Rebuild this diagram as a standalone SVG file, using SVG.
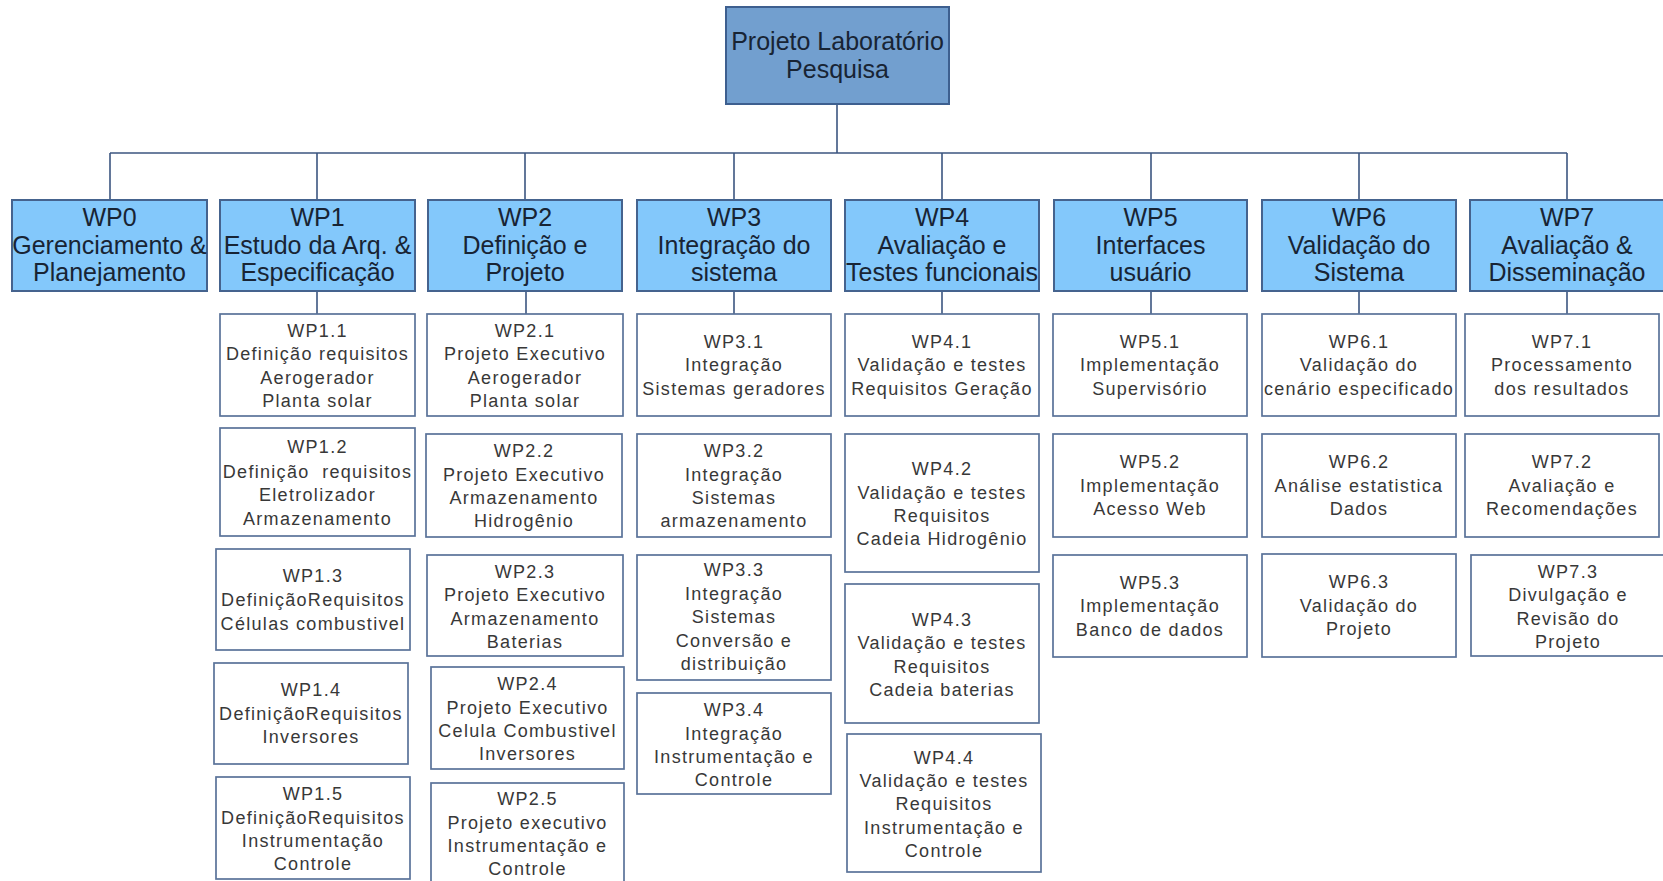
<svg xmlns="http://www.w3.org/2000/svg" width="1663" height="881" viewBox="0 0 1663 881">
  <style>
    .root rect { fill: #729fcf; stroke: #3d5f8f; stroke-width: 2; }
    .wp rect { fill: #83c8fb; stroke: #45638e; stroke-width: 2; }
    .sub rect { fill: #ffffff; stroke: #5a7299; stroke-width: 1.7; }
    text { font-family: "Liberation Sans", Arial, sans-serif; text-anchor: middle; }
    .root text, .wp text { font-size: 25px; fill: #182434; }
    .sub text { font-size: 18px; fill: #383838; letter-spacing: 1.3px; white-space: pre; }
    #connectors path { fill: none; stroke: #3c5680; stroke-width: 1.6; }
  </style>
  <rect width="1663" height="881" fill="#ffffff"/>

  <!-- tree links -->
  <g id="connectors">
    <path d="M837 104V153M110 153H1567"/>
    <path d="M110 153V200M317 153V200M525 153V200M734 153V200M942 153V200M1151 153V200M1359 153V200M1567 153V200"/>
    <path d="M317 291V314M526 291V314M734 291V314M942 291V314M1151 291V314M1359 291V314M1567 291V314"/>
  </g>

  <!-- top level -->
  <g id="root" class="root">
    <rect x="726" y="7" width="223" height="97"/>
    <text x="837.5" y="50">Projeto Laboratório</text>
    <text x="837.5" y="78">Pesquisa</text>
  </g>

  <!-- work packages -->
  <g id="wp0" class="wp">
    <rect x="12" y="200" width="195" height="91"/>
    <text x="109.5" y="226">WP0</text>
    <text x="109.5" y="253.5">Gerenciamento &amp;</text>
    <text x="109.5" y="281">Planejamento</text>
  </g>
  <g id="wp1" class="wp">
    <rect x="220" y="200" width="195" height="91"/>
    <text x="317.5" y="226">WP1</text>
    <text x="317.5" y="253.5">Estudo da Arq. &amp;</text>
    <text x="317.5" y="281">Especificação</text>
  </g>
  <g id="wp2" class="wp">
    <rect x="428" y="200" width="194" height="91"/>
    <text x="525" y="226">WP2</text>
    <text x="525" y="253.5">Definição e</text>
    <text x="525" y="281">Projeto</text>
  </g>
  <g id="wp3" class="wp">
    <rect x="637" y="200" width="194" height="91"/>
    <text x="734" y="226">WP3</text>
    <text x="734" y="253.5">Integração do</text>
    <text x="734" y="281">sistema</text>
  </g>
  <g id="wp4" class="wp">
    <rect x="845" y="200" width="194" height="91"/>
    <text x="942" y="226">WP4</text>
    <text x="942" y="253.5">Avaliação e</text>
    <text x="942" y="281">Testes funcionais</text>
  </g>
  <g id="wp5" class="wp">
    <rect x="1054" y="200" width="193" height="91"/>
    <text x="1150.5" y="226">WP5</text>
    <text x="1150.5" y="253.5">Interfaces</text>
    <text x="1150.5" y="281">usuário</text>
  </g>
  <g id="wp6" class="wp">
    <rect x="1262" y="200" width="194" height="91"/>
    <text x="1359" y="226">WP6</text>
    <text x="1359" y="253.5">Validação do</text>
    <text x="1359" y="281">Sistema</text>
  </g>
  <g id="wp7" class="wp">
    <rect x="1470" y="200" width="194" height="91"/>
    <text x="1567" y="226">WP7</text>
    <text x="1567" y="253.5">Avaliação &amp;</text>
    <text x="1567" y="281">Disseminação</text>
  </g>

  <!-- WP1 tasks -->
  <g id="wp1-1" class="sub">
    <rect x="220" y="314" width="195" height="102"/>
    <text x="317.5" y="337">WP1.1</text>
    <text x="317.5" y="360">Definição requisitos</text>
    <text x="317.5" y="383.5">Aerogerador</text>
    <text x="317.5" y="407">Planta solar</text>
  </g>
  <g id="wp1-2" class="sub">
    <rect x="220" y="428" width="195" height="108"/>
    <text x="317.5" y="453">WP1.2</text>
    <text x="317.5" y="477.5">Definição  requisitos</text>
    <text x="317.5" y="501">Eletrolizador</text>
    <text x="317.5" y="525">Armazenamento</text>
  </g>
  <g id="wp1-3" class="sub">
    <rect x="216" y="549" width="194" height="101"/>
    <text x="313" y="582">WP1.3</text>
    <text x="313" y="606">DefiniçãoRequisitos</text>
    <text x="313" y="630">Células combustivel</text>
  </g>
  <g id="wp1-4" class="sub">
    <rect x="214" y="663" width="194" height="101"/>
    <text x="311" y="696">WP1.4</text>
    <text x="311" y="719.5">DefiniçãoRequisitos</text>
    <text x="311" y="743">Inversores</text>
  </g>
  <g id="wp1-5" class="sub">
    <rect x="216" y="777" width="194" height="102"/>
    <text x="313" y="800">WP1.5</text>
    <text x="313" y="823.5">DefiniçãoRequisitos</text>
    <text x="313" y="847">Instrumentação</text>
    <text x="313" y="870">Controle</text>
  </g>

  <!-- WP2 tasks -->
  <g id="wp2-1" class="sub">
    <rect x="427" y="314" width="196" height="102"/>
    <text x="525" y="337">WP2.1</text>
    <text x="525" y="360">Projeto Executivo</text>
    <text x="525" y="383.5">Aerogerador</text>
    <text x="525" y="407">Planta solar</text>
  </g>
  <g id="wp2-2" class="sub">
    <rect x="426" y="434" width="196" height="103"/>
    <text x="524" y="457">WP2.2</text>
    <text x="524" y="480.5">Projeto Executivo</text>
    <text x="524" y="504">Armazenamento</text>
    <text x="524" y="527">Hidrogênio</text>
  </g>
  <g id="wp2-3" class="sub">
    <rect x="427" y="555" width="196" height="101"/>
    <text x="525" y="577.5">WP2.3</text>
    <text x="525" y="601">Projeto Executivo</text>
    <text x="525" y="624.5">Armazenamento</text>
    <text x="525" y="648">Baterias</text>
  </g>
  <g id="wp2-4" class="sub">
    <rect x="431" y="667" width="193" height="102"/>
    <text x="527.5" y="690">WP2.4</text>
    <text x="527.5" y="713.5">Projeto Executivo</text>
    <text x="527.5" y="737">Celula Combustivel</text>
    <text x="527.5" y="760">Inversores</text>
  </g>
  <g id="wp2-5" class="sub">
    <rect x="431" y="783" width="193" height="102"/>
    <text x="527.5" y="805">WP2.5</text>
    <text x="527.5" y="828.5">Projeto executivo</text>
    <text x="527.5" y="852">Instrumentação e</text>
    <text x="527.5" y="875">Controle</text>
  </g>

  <!-- WP3 tasks -->
  <g id="wp3-1" class="sub">
    <rect x="637" y="314" width="194" height="102"/>
    <text x="734" y="348">WP3.1</text>
    <text x="734" y="371">Integração</text>
    <text x="734" y="394.5">Sistemas geradores</text>
  </g>
  <g id="wp3-2" class="sub">
    <rect x="637" y="434" width="194" height="103"/>
    <text x="734" y="457">WP3.2</text>
    <text x="734" y="480.5">Integração</text>
    <text x="734" y="504">Sistemas</text>
    <text x="734" y="527">armazenamento</text>
  </g>
  <g id="wp3-3" class="sub">
    <rect x="637" y="555" width="194" height="125"/>
    <text x="734" y="576">WP3.3</text>
    <text x="734" y="600">Integração</text>
    <text x="734" y="623">Sistemas</text>
    <text x="734" y="647">Conversão e</text>
    <text x="734" y="670">distribuição</text>
  </g>
  <g id="wp3-4" class="sub">
    <rect x="637" y="693" width="194" height="101"/>
    <text x="734" y="716">WP3.4</text>
    <text x="734" y="739.5">Integração</text>
    <text x="734" y="763">Instrumentação e</text>
    <text x="734" y="786">Controle</text>
  </g>

  <!-- WP4 tasks -->
  <g id="wp4-1" class="sub">
    <rect x="845" y="314" width="194" height="102"/>
    <text x="942" y="348">WP4.1</text>
    <text x="942" y="371">Validação e testes</text>
    <text x="942" y="394.5">Requisitos Geração</text>
  </g>
  <g id="wp4-2" class="sub">
    <rect x="845" y="434" width="194" height="138"/>
    <text x="942" y="475">WP4.2</text>
    <text x="942" y="498.5">Validação e testes</text>
    <text x="942" y="522">Requisitos</text>
    <text x="942" y="545">Cadeia Hidrogênio</text>
  </g>
  <g id="wp4-3" class="sub">
    <rect x="845" y="584" width="194" height="139"/>
    <text x="942" y="625.5">WP4.3</text>
    <text x="942" y="649">Validação e testes</text>
    <text x="942" y="672.5">Requisitos</text>
    <text x="942" y="696">Cadeia baterias</text>
  </g>
  <g id="wp4-4" class="sub">
    <rect x="847" y="734" width="194" height="138"/>
    <text x="944" y="763.5">WP4.4</text>
    <text x="944" y="787">Validação e testes</text>
    <text x="944" y="810">Requisitos</text>
    <text x="944" y="834">Instrumentação e</text>
    <text x="944" y="857">Controle</text>
  </g>

  <!-- WP5 tasks -->
  <g id="wp5-1" class="sub">
    <rect x="1053" y="314" width="194" height="102"/>
    <text x="1150" y="348">WP5.1</text>
    <text x="1150" y="371">Implementação</text>
    <text x="1150" y="394.5">Supervisório</text>
  </g>
  <g id="wp5-2" class="sub">
    <rect x="1053" y="434" width="194" height="103"/>
    <text x="1150" y="468">WP5.2</text>
    <text x="1150" y="491.5">Implementação</text>
    <text x="1150" y="515">Acesso Web</text>
  </g>
  <g id="wp5-3" class="sub">
    <rect x="1053" y="555" width="194" height="102"/>
    <text x="1150" y="589">WP5.3</text>
    <text x="1150" y="612">Implementação</text>
    <text x="1150" y="635.5">Banco de dados</text>
  </g>

  <!-- WP6 tasks -->
  <g id="wp6-1" class="sub">
    <rect x="1262" y="314" width="194" height="102"/>
    <text x="1359" y="348">WP6.1</text>
    <text x="1359" y="371">Validação do</text>
    <text x="1359" y="394.5">cenário especificado</text>
  </g>
  <g id="wp6-2" class="sub">
    <rect x="1262" y="434" width="194" height="103"/>
    <text x="1359" y="468">WP6.2</text>
    <text x="1359" y="491.5">Análise estatistica</text>
    <text x="1359" y="515">Dados</text>
  </g>
  <g id="wp6-3" class="sub">
    <rect x="1262" y="554" width="194" height="103"/>
    <text x="1359" y="588">WP6.3</text>
    <text x="1359" y="611.5">Validação do</text>
    <text x="1359" y="635">Projeto</text>
  </g>

  <!-- WP7 tasks -->
  <g id="wp7-1" class="sub">
    <rect x="1465" y="314" width="194" height="102"/>
    <text x="1562" y="348">WP7.1</text>
    <text x="1562" y="371">Processamento</text>
    <text x="1562" y="394.5">dos resultados</text>
  </g>
  <g id="wp7-2" class="sub">
    <rect x="1465" y="434" width="194" height="103"/>
    <text x="1562" y="468">WP7.2</text>
    <text x="1562" y="491.5">Avaliação e</text>
    <text x="1562" y="515">Recomendações</text>
  </g>
  <g id="wp7-3" class="sub">
    <rect x="1471" y="555" width="195" height="101"/>
    <text x="1568" y="577.5">WP7.3</text>
    <text x="1568" y="601">Divulgação e</text>
    <text x="1568" y="624.5">Revisão do</text>
    <text x="1568" y="648">Projeto</text>
  </g>
</svg>
